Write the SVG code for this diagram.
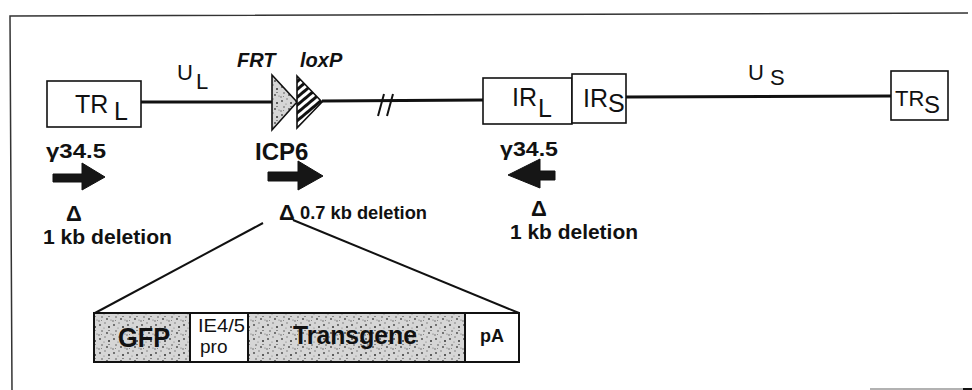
<svg xmlns="http://www.w3.org/2000/svg" width="972" height="390" viewBox="0 0 972 390">
<defs>
<style>
.t{font-family:"Liberation Sans",Arial,sans-serif;fill:#111}
.b{font-weight:bold}
.bi{font-weight:bold;font-style:italic}
.box{fill:#fff;stroke:#111;stroke-width:1.6}
.ln{stroke:#111;stroke-width:3;fill:none}
.thin{stroke:#111;stroke-width:2;fill:none}
.arr{fill:#161616;stroke:#111;stroke-width:1}
</style>
<pattern id="stip" width="14" height="14" patternUnits="userSpaceOnUse">
<rect width="14" height="14" fill="#d6d6d6"/>
<circle cx="2" cy="3" r="0.9" fill="#444"/>
<circle cx="7" cy="1" r="0.7" fill="#666"/>
<circle cx="11" cy="5" r="1" fill="#333"/>
<circle cx="4" cy="9" r="0.8" fill="#555"/>
<circle cx="9" cy="11" r="0.9" fill="#444"/>
<circle cx="13" cy="12" r="0.6" fill="#666"/>
<circle cx="1" cy="13" r="0.7" fill="#555"/>
<circle cx="6" cy="6" r="0.6" fill="#777"/>
<rect x="10" y="8" width="2" height="1" fill="#888"/>
<rect x="3" y="12" width="1" height="1" fill="#888"/>
</pattern>
<pattern id="hatch" width="6" height="6" patternUnits="userSpaceOnUse" patternTransform="rotate(-40)">
<rect width="6" height="6" fill="#fff"/>
<rect width="6" height="3" fill="#111"/>
</pattern>
</defs>

<g id="frame">
<path d="M12,390 L10,16 L968,13" fill="none" stroke="#333" stroke-width="1.5"/>
<line x1="870" y1="389" x2="963" y2="389" stroke="#999" stroke-width="1.5"/>
<line x1="963" y1="389" x2="972" y2="389" stroke="#111" stroke-width="2"/>
</g>

<g id="connectors">
<line class="ln" x1="141" y1="102" x2="272" y2="102"/>
<line class="ln" x1="322" y1="101" x2="483" y2="100"/>
<line class="thin" x1="384" y1="94" x2="378" y2="116"/>
<line class="thin" x1="393" y1="94" x2="387" y2="116"/>
<line class="ln" x1="626" y1="97" x2="891" y2="96"/>
<line class="thin" x1="263" y1="223" x2="95" y2="313"/>
<line class="thin" x1="293" y1="220" x2="519" y2="313"/>
</g>

<g id="TRL">
<rect class="box" x="47" y="81" width="94" height="46"/>
<text class="t" x="75" y="113" font-size="25">TR<tspan x="114" y="120">L</tspan></text>
</g>
<g id="UL">
<text class="t" x="177" y="80" font-size="22">U<tspan x="196" y="89">L</tspan></text>
</g>
<g id="FRT">
<polygon points="272,75 297,102 272,130" fill="url(#stip)" stroke="#111" stroke-width="1.6"/>
<text class="t bi" x="237" y="67" font-size="20">FRT</text>
</g>
<g id="loxP">
<polygon points="297,76 322,102 297,128" fill="url(#hatch)" stroke="#111" stroke-width="1.6"/>
<text class="t bi" x="300" y="67" font-size="20">loxP</text>
</g>
<g id="IRL">
<rect class="box" x="483" y="78" width="89" height="46"/>
<text class="t" x="512" y="106" font-size="25">IR<tspan x="538" y="117">L</tspan></text>
</g>
<g id="IRS">
<rect class="box" x="572" y="74" width="54" height="49"/>
<text class="t" x="583" y="107" font-size="25">IR<tspan x="608" y="112">S</tspan></text>
</g>
<g id="US">
<text class="t" x="748" y="80" font-size="22">U<tspan x="770" y="85">S</tspan></text>
</g>
<g id="TRS">
<rect class="box" x="891" y="71" width="57" height="49"/>
<text class="t" x="895" y="106" font-size="22">TR<tspan x="924" y="113" font-size="24">S</tspan></text>
</g>

<g id="g345left">
<text class="t b" x="46" y="158" font-size="21" textLength="60" lengthAdjust="spacingAndGlyphs">γ34.5</text>
<polygon class="arr" points="53,174 82,174 82,163 105,177 82,190 82,182 53,182"/>
<text class="t b" x="66" y="221" font-size="22">Δ</text>
<text class="t b" x="43" y="244" font-size="20" textLength="129" lengthAdjust="spacingAndGlyphs">1 kb deletion</text>
</g>
<g id="ICP6">
<text class="t b" x="255" y="160" font-size="24">ICP6</text>
<polygon class="arr" points="268,172 298,172 298,161 323,176 298,190 298,181 268,181"/>
<text class="t b" x="279" y="220" font-size="22">Δ</text>
<text class="t b" x="300" y="219" font-size="18" textLength="127" lengthAdjust="spacingAndGlyphs">0.7 kb deletion</text>
</g>
<g id="g345right">
<text class="t b" x="500" y="156" font-size="20" textLength="58" lengthAdjust="spacingAndGlyphs">γ34.5</text>
<polygon class="arr" points="508,175 540,159 540,171 555,171 555,180 540,180 540,188"/>
<text class="t b" x="531" y="216" font-size="22">Δ</text>
<text class="t b" x="510" y="239" font-size="20" textLength="128" lengthAdjust="spacingAndGlyphs">1 kb deletion</text>
</g>

<g id="cassette">
<rect x="94" y="313" width="96" height="49" fill="url(#stip)" stroke="#111" stroke-width="2"/>
<rect x="190" y="313" width="58" height="49" fill="#fff" stroke="#111" stroke-width="2"/>
<rect x="248" y="313" width="217" height="49" fill="url(#stip)" stroke="#111" stroke-width="2"/>
<rect x="465" y="313" width="54" height="49" fill="#fff" stroke="#111" stroke-width="2"/>
<text class="t b" x="118" y="347" font-size="28" textLength="52" lengthAdjust="spacingAndGlyphs">GFP</text>
<text class="t" x="198" y="332" font-size="19" textLength="47" lengthAdjust="spacingAndGlyphs">IE4/5</text>
<text class="t" x="200" y="353" font-size="19">pro</text>
<text class="t b" x="293" y="344" font-size="25" textLength="124" lengthAdjust="spacingAndGlyphs">Transgene</text>
<text class="t b" x="480" y="342" font-size="18">pA</text>
</g>
</svg>
